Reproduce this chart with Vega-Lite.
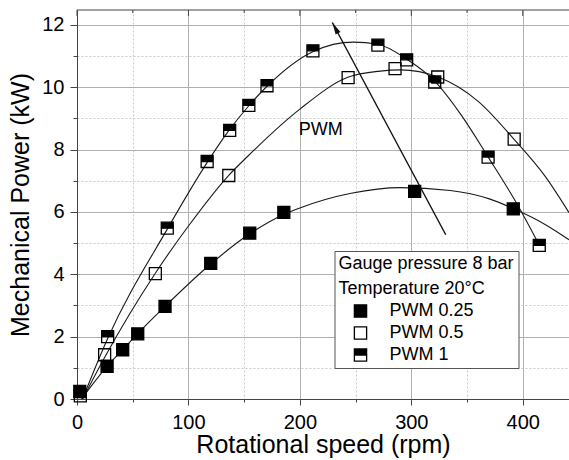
{
  "$schema": "https://vega.github.io/schema/vega-lite/v6.json",
  "width": 492,
  "height": 389,
  "autosize": {"type": "none"},
  "padding": {"left": 77, "top": 10, "right": 0, "bottom": 61},
  "background": "white",
  "config": {"font": "Liberation Sans", "view": {"stroke": null}},
  "datasets": {
    "curves": [
      {"series": "PWM 0.25", "x": 4, "y": 0},
      {"series": "PWM 0.25", "x": 27, "y": 1.05},
      {"series": "PWM 0.25", "x": 41, "y": 1.58},
      {"series": "PWM 0.25", "x": 54, "y": 2.08},
      {"series": "PWM 0.25", "x": 79, "y": 2.97},
      {"series": "PWM 0.25", "x": 120, "y": 4.33},
      {"series": "PWM 0.25", "x": 155, "y": 5.3},
      {"series": "PWM 0.25", "x": 186, "y": 5.93},
      {"series": "PWM 0.25", "x": 200, "y": 6.13},
      {"series": "PWM 0.25", "x": 246, "y": 6.6},
      {"series": "PWM 0.25", "x": 290, "y": 6.78},
      {"series": "PWM 0.25", "x": 335, "y": 6.69},
      {"series": "PWM 0.25", "x": 370, "y": 6.42},
      {"series": "PWM 0.25", "x": 392, "y": 6.1},
      {"series": "PWM 0.25", "x": 420, "y": 5.6},
      {"series": "PWM 0.25", "x": 441.5, "y": 5.11},
      {"series": "PWM 0.5", "x": 5, "y": 0},
      {"series": "PWM 0.5", "x": 25, "y": 1.35},
      {"series": "PWM 0.5", "x": 70, "y": 4.02},
      {"series": "PWM 0.5", "x": 100, "y": 5.55},
      {"series": "PWM 0.5", "x": 136, "y": 7.17},
      {"series": "PWM 0.5", "x": 153, "y": 7.78},
      {"series": "PWM 0.5", "x": 200, "y": 9.3},
      {"series": "PWM 0.5", "x": 243, "y": 10.32},
      {"series": "PWM 0.5", "x": 272, "y": 10.52},
      {"series": "PWM 0.5", "x": 290, "y": 10.56},
      {"series": "PWM 0.5", "x": 324, "y": 10.33},
      {"series": "PWM 0.5", "x": 360, "y": 9.55},
      {"series": "PWM 0.5", "x": 392, "y": 8.34},
      {"series": "PWM 0.5", "x": 420, "y": 7.15},
      {"series": "PWM 0.5", "x": 441.5, "y": 5.98},
      {"series": "PWM 1", "x": 5, "y": 0},
      {"series": "PWM 1", "x": 27, "y": 1.9},
      {"series": "PWM 1", "x": 81, "y": 5.45},
      {"series": "PWM 1", "x": 117, "y": 7.6},
      {"series": "PWM 1", "x": 136, "y": 8.6},
      {"series": "PWM 1", "x": 154, "y": 9.4},
      {"series": "PWM 1", "x": 171, "y": 10.05},
      {"series": "PWM 1", "x": 212, "y": 11.15},
      {"series": "PWM 1", "x": 248, "y": 11.45},
      {"series": "PWM 1", "x": 270, "y": 11.38},
      {"series": "PWM 1", "x": 296, "y": 10.9},
      {"series": "PWM 1", "x": 321, "y": 10.2},
      {"series": "PWM 1", "x": 345, "y": 9.1},
      {"series": "PWM 1", "x": 369, "y": 7.76},
      {"series": "PWM 1", "x": 395, "y": 6.25},
      {"series": "PWM 1", "x": 415, "y": 4.93}
    ],
    "points": [
      {"series": "PWM 0.25", "x": 2.5, "y": 0.24},
      {"series": "PWM 0.25", "x": 27, "y": 1.05},
      {"series": "PWM 0.25", "x": 41, "y": 1.58},
      {"series": "PWM 0.25", "x": 54.5, "y": 2.09},
      {"series": "PWM 0.25", "x": 79, "y": 2.97},
      {"series": "PWM 0.25", "x": 120, "y": 4.35},
      {"series": "PWM 0.25", "x": 155, "y": 5.32},
      {"series": "PWM 0.25", "x": 185.6, "y": 5.99},
      {"series": "PWM 0.25", "x": 303, "y": 6.66},
      {"series": "PWM 0.25", "x": 391.5, "y": 6.1},
      {"series": "PWM 0.5", "x": 3, "y": 0.1},
      {"series": "PWM 0.5", "x": 24.8, "y": 1.42},
      {"series": "PWM 0.5", "x": 70.3, "y": 4.02},
      {"series": "PWM 0.5", "x": 136.2, "y": 7.17},
      {"series": "PWM 0.5", "x": 243.3, "y": 10.31},
      {"series": "PWM 0.5", "x": 285.4, "y": 10.6},
      {"series": "PWM 0.5", "x": 323.7, "y": 10.33},
      {"series": "PWM 0.5", "x": 392.3, "y": 8.34},
      {"series": "PWM 1", "x": 27.5, "y": 2.0},
      {"series": "PWM 1", "x": 81, "y": 5.48},
      {"series": "PWM 1", "x": 116.8, "y": 7.62},
      {"series": "PWM 1", "x": 137, "y": 8.62},
      {"series": "PWM 1", "x": 154.2, "y": 9.42},
      {"series": "PWM 1", "x": 170.5, "y": 10.05},
      {"series": "PWM 1", "x": 211.7, "y": 11.17},
      {"series": "PWM 1", "x": 270, "y": 11.35},
      {"series": "PWM 1", "x": 295.8, "y": 10.88},
      {"series": "PWM 1", "x": 321, "y": 10.17},
      {"series": "PWM 1", "x": 368.9, "y": 7.76},
      {"series": "PWM 1", "x": 414.8, "y": 4.93}
    ],
    "arrow": [
      {"x": 330.9, "y": 5.27, "x2": 229.1, "y2": 12.08}
    ],
    "arrowhead": [
      {"x": 229.1, "y": 12.08}
    ],
    "label": [
      {"x": 199, "y": 8.46, "text": "PWM"}
    ],
    "topMajor": [{"x": 0}, {"x": 100}, {"x": 200}, {"x": 300}, {"x": 400}],
    "topMinor": [{"x": 50}, {"x": 150}, {"x": 250}, {"x": 350}]
  },
  "layer": [
    {
      "data": {"name": "curves"},
      "mark": {"type": "line", "interpolate": "monotone", "color": "#1a1a1a", "strokeWidth": 1.1},
      "encoding": {
        "x": {
          "field": "x", "type": "quantitative",
          "scale": {"domain": [0, 441.5], "nice": false, "zero": false},
          "axis": {
            "orient": "bottom",
            "title": "Rotational speed (rpm)",
            "titleFontSize": 25, "titleFontWeight": "normal", "titleColor": "black", "titlePadding": 0,
            "values": [0, 50, 100, 150, 200, 250, 300, 350, 400],
            "labelExpr": "datum.value % 100 === 0 ? datum.label : ''",
            "labelFontSize": 20, "labelColor": "black", "labelPadding": 7, "labelFlush": false,
            "tickSize": {"condition": {"test": "datum.value % 100 === 0", "value": 6}, "value": 3},
            "tickColor": "#444", "domainColor": "#444",
            "grid": true,
            "gridColor": {"condition": {"test": "datum.value % 100 === 0", "value": "#b0b0b0"}, "value": "#c8c8c8"},
            "gridDash": {"condition": {"test": "datum.value % 100 === 0", "value": []}, "value": [2, 2]}
          }
        },
        "y": {
          "field": "y", "type": "quantitative",
          "scale": {"domain": [0, 12.48], "nice": false, "zero": false},
          "axis": {
            "orient": "left",
            "title": "Mechanical Power (kW)",
            "titleFontSize": 25, "titleFontWeight": "normal", "titleColor": "black", "titlePadding": 8,
            "values": [0, 1, 2, 3, 4, 5, 6, 7, 8, 9, 10, 11, 12],
            "labelExpr": "datum.value % 2 === 0 ? datum.label : ''",
            "labelFontSize": 20, "labelColor": "black", "labelPadding": 6, "labelFlush": false,
            "tickSize": {"condition": {"test": "datum.value % 2 === 0", "value": 7}, "value": 4},
            "tickColor": "#444", "domainColor": "#444",
            "grid": true,
            "gridColor": {"condition": {"test": "datum.value % 2 === 0", "value": "#b0b0b0"}, "value": "#c8c8c8"},
            "gridDash": {"condition": {"test": "datum.value % 2 === 0", "value": []}, "value": [2, 2]}
          }
        },
        "detail": {"field": "series", "type": "nominal"}
      }
    },
    {
      "data": {"name": "points"},
      "mark": {"type": "point", "filled": true, "strokeWidth": 1.3, "size": 144, "opacity": 1},
      "encoding": {
        "x": {"field": "x", "type": "quantitative", "axis": null},
        "y": {"field": "y", "type": "quantitative", "axis": null},
        "shape": {
          "field": "series", "type": "nominal",
          "scale": {"domain": ["PWM 0.25", "PWM 0.5", "PWM 1"], "range": ["square", "square", "M-1,-1H1V0H-1Z M-1,0V1H1V0V1H-1V0Z"]},
          "legend": {
            "orient": "none", "legendX": 257.5, "legendY": 241,
            "title": ["Gauge pressure 8 bar", "Temperature 20°C"],
            "titleFontSize": 18, "titleFontWeight": "normal", "titleColor": "black", "titleLineHeight": 25, "titlePadding": 4,
            "labelFontSize": 18, "labelColor": "black", "labelOffset": 20,
            "symbolSize": 150, "symbolStrokeWidth": 1.3, "symbolOffset": 13,
            "rowPadding": 4, "padding": 4, "fillColor": "white", "strokeColor": "#555"
          }
        },
        "fill": {
          "field": "series", "type": "nominal",
          "scale": {"domain": ["PWM 0.25", "PWM 0.5", "PWM 1"], "range": ["black", "transparent", "black"]},
          "legend": {
            "orient": "none", "legendX": 257.5, "legendY": 241,
            "title": ["Gauge pressure 8 bar", "Temperature 20°C"],
            "titleFontSize": 18, "titleFontWeight": "normal", "titleColor": "black", "titleLineHeight": 25, "titlePadding": 4,
            "labelFontSize": 18, "labelColor": "black", "labelOffset": 20,
            "symbolSize": 150, "symbolStrokeWidth": 1.3, "symbolOffset": 13,
            "rowPadding": 4, "padding": 4, "fillColor": "white", "strokeColor": "#555"
          }
        },
        "stroke": {
          "field": "series", "type": "nominal",
          "scale": {"domain": ["PWM 0.25", "PWM 0.5", "PWM 1"], "range": ["black", "black", "black"]},
          "legend": {
            "orient": "none", "legendX": 257.5, "legendY": 241,
            "title": ["Gauge pressure 8 bar", "Temperature 20°C"],
            "titleFontSize": 18, "titleFontWeight": "normal", "titleColor": "black", "titleLineHeight": 25, "titlePadding": 4,
            "labelFontSize": 18, "labelColor": "black", "labelOffset": 20,
            "symbolSize": 150, "symbolStrokeWidth": 1.3, "symbolOffset": 13,
            "rowPadding": 4, "padding": 4, "fillColor": "white", "strokeColor": "#555"
          }
        }
      }
    },
    {
      "data": {"name": "arrow"},
      "mark": {"type": "rule", "color": "#111", "strokeWidth": 1.4},
      "encoding": {
        "x": {"field": "x", "type": "quantitative", "axis": null},
        "y": {"field": "y", "type": "quantitative", "axis": null},
        "x2": {"field": "x2"},
        "y2": {"field": "y2"}
      }
    },
    {
      "data": {"name": "arrowhead"},
      "mark": {"type": "point", "filled": true, "color": "#111", "opacity": 1, "strokeWidth": 0, "size": 150, "angle": 332, "shape": "M0,0L0.45,2L-0.45,2Z"},
      "encoding": {
        "x": {"field": "x", "type": "quantitative", "axis": null},
        "y": {"field": "y", "type": "quantitative", "axis": null}
      }
    },
    {
      "data": {"name": "label"},
      "mark": {"type": "text", "align": "left", "baseline": "alphabetic", "fontSize": 18, "color": "black"},
      "encoding": {
        "x": {"field": "x", "type": "quantitative", "axis": null},
        "y": {"field": "y", "type": "quantitative", "axis": null},
        "text": {"field": "text"}
      }
    },
    {
      "data": {"values": [{}]},
      "mark": {"type": "rule", "color": "#444", "strokeWidth": 1},
      "encoding": {
        "y": {"datum": 12.48, "type": "quantitative", "axis": null}
      }
    },
    {
      "data": {"name": "topMajor"},
      "mark": {"type": "tick", "orient": "vertical", "color": "#444", "size": 6, "thickness": 1, "yOffset": 3, "opacity": 1},
      "encoding": {
        "x": {"field": "x", "type": "quantitative", "axis": null},
        "y": {"datum": 12.48, "type": "quantitative", "axis": null}
      }
    },
    {
      "data": {"name": "topMinor"},
      "mark": {"type": "tick", "orient": "vertical", "color": "#444", "size": 3, "thickness": 1, "yOffset": 1.5, "opacity": 1},
      "encoding": {
        "x": {"field": "x", "type": "quantitative", "axis": null},
        "y": {"datum": 12.48, "type": "quantitative", "axis": null}
      }
    }
  ],
  "resolve": {"axis": {"x": "independent", "y": "independent"}}
}
